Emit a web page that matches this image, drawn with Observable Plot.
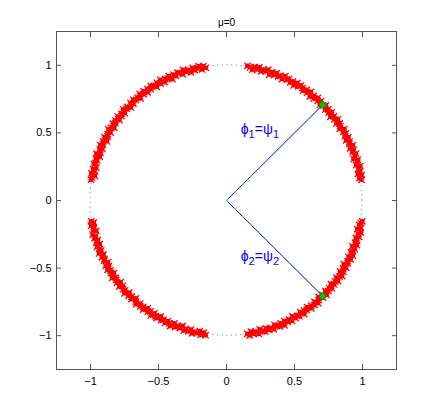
<!DOCTYPE html>
<html><head><meta charset="utf-8">
<script src="https://cdn.jsdelivr.net/npm/d3@7"></script>
<script src="https://cdn.jsdelivr.net/npm/@observablehq/plot@0.6"></script>
<style>body{margin:0;background:#fff} svg{display:block}</style>
</head><body><div id="chart"></div>
<script>
const title = "μ=0";
const xTicks = [-1, -0.5, 0, 0.5, 1];
const yTicks = [-1, -0.5, 0, 0.5, 1];
const unitRadius = [1];
// angles (degrees) and radii of the red "x" samples, one pair per arc
const theta1 = [8.8, 9.6, 10.7, 11.5, 12.6, 13.3, 14.5, 15.4, 16.2, 17.3,
  18.1, 19.2, 20.0, 21.1, 21.9, 23.0, 23.8, 24.9, 25.7, 26.8,
  27.6, 28.7, 29.5, 30.6, 31.4, 32.5, 33.3, 34.4, 35.2, 36.3,
  37.1, 38.2, 39.0, 40.1, 40.9, 42.0, 42.8, 43.9, 44.7, 45.8,
  46.6, 47.7, 48.5, 49.6, 50.4, 51.5, 52.3, 53.4, 54.2, 55.3,
  56.1, 57.2, 58.0, 59.1, 59.9, 61.0, 61.8, 62.9, 63.7, 64.8,
  65.6, 66.7, 67.5, 68.6, 69.4, 70.5, 71.3, 72.4, 73.2, 74.3,
  75.1, 76.2, 77.0, 78.1, 78.9, 80.0, 81.2];
const r1 = [1.004, 0.991, 1.012, 0.986, 1.007, 0.997, 1.015, 0.989, 1.002, 1.010,
  0.984, 0.999, 1.013, 0.993, 1.006, 0.988, 1.016, 0.996, 1.003, 0.985,
  1.011, 0.992, 1.008, 0.998, 1.014, 0.987, 1.001, 1.009, 0.990, 1.017,
  0.995, 1.005, 0.983, 1.012, 0.994, 1.007, 0.989, 1.015, 1.000, 0.986,
  1.010, 0.997, 1.013, 0.991, 1.004, 0.984, 1.016, 0.993, 1.008, 0.988,
  1.002, 1.011, 0.996, 1.014, 0.985, 1.006, 0.992, 1.009, 0.999, 1.017,
  0.987, 1.003, 0.994, 1.012, 0.990, 1.007, 0.983, 1.015, 0.998, 1.005,
  0.989, 1.013, 0.995, 1.010, 0.986, 1.001, 1.008];
const theta2 = [98.8, 99.7, 100.5, 101.6, 102.4, 103.5, 104.2, 105.4, 106.3, 107.1,
  108.2, 109.0, 110.1, 110.9, 112.0, 112.7, 113.9, 114.8, 115.6, 116.7,
  117.5, 118.6, 119.3, 120.5, 121.4, 122.2, 123.3, 124.1, 125.2, 126.0,
  127.1, 127.8, 129.0, 129.9, 130.7, 131.8, 132.6, 133.7, 134.4, 135.6,
  136.5, 137.3, 138.4, 139.2, 140.3, 141.1, 142.2, 142.9, 144.1, 145.0,
  145.8, 146.9, 147.7, 148.8, 149.5, 150.7, 151.6, 152.4, 153.5, 154.3,
  155.4, 156.2, 157.3, 158.0, 159.2, 160.1, 160.9, 162.0, 162.8, 163.9,
  164.6, 165.8, 166.7, 167.5, 168.6, 169.4, 170.3, 171.2];
const r2 = [0.993, 1.009, 0.986, 1.014, 1.001, 0.990, 1.011, 0.984, 1.006, 0.997,
  1.016, 0.988, 1.003, 1.012, 0.995, 1.008, 0.983, 1.013, 0.999, 1.005,
  0.987, 1.017, 0.992, 1.010, 0.985, 1.002, 1.014, 0.996, 1.007, 0.989,
  1.011, 0.994, 1.015, 0.986, 1.004, 0.998, 1.012, 0.991, 1.009, 0.984,
  1.006, 1.000, 1.016, 0.988, 1.003, 0.993, 1.013, 0.987, 1.008, 0.997,
  1.010, 0.985, 1.005, 1.015, 0.990, 1.001, 0.995, 1.012, 0.983, 1.007,
  0.999, 1.014, 0.989, 1.004, 0.992, 1.017, 0.986, 1.009, 0.996, 1.002,
  1.011, 0.988, 1.006, 0.994, 1.013, 0.985, 1.003, 1.008];
const theta3 = [188.8, 189.5, 190.6, 191.4, 192.5, 193.2, 194.4, 195.3, 196.1, 197.2,
  198.0, 199.1, 199.8, 201.0, 201.9, 202.7, 203.8, 204.6, 205.7, 206.4,
  207.6, 208.5, 209.3, 210.4, 211.2, 212.3, 213.0, 214.2, 215.1, 215.9,
  217.0, 217.8, 218.9, 219.6, 220.8, 221.7, 222.5, 223.6, 224.4, 225.5,
  226.2, 227.4, 228.3, 229.1, 230.2, 231.0, 232.1, 232.8, 234.0, 234.9,
  235.7, 236.8, 237.6, 238.7, 239.4, 240.6, 241.5, 242.3, 243.4, 244.2,
  245.3, 246.0, 247.2, 248.1, 248.9, 250.0, 250.8, 251.9, 252.6, 253.8,
  254.7, 255.5, 256.6, 257.4, 258.5, 259.2, 260.3, 261.2];
const r3 = [1.007, 0.989, 1.013, 0.995, 1.002, 0.984, 1.016, 0.998, 1.010, 0.991,
  1.005, 0.986, 1.012, 1.000, 0.993, 1.015, 0.988, 1.008, 0.996, 1.003,
  0.983, 1.011, 0.992, 1.014, 0.997, 1.006, 0.987, 1.017, 0.994, 1.001,
  1.009, 0.985, 1.013, 0.990, 1.004, 0.999, 1.016, 0.988, 1.007, 0.995,
  1.011, 0.984, 1.002, 1.014, 0.992, 1.008, 0.997, 1.012, 0.986, 1.005,
  0.993, 1.015, 0.989, 1.003, 1.010, 0.985, 1.006, 0.998, 1.013, 0.991,
  1.001, 1.017, 0.987, 1.009, 0.994, 1.004, 0.983, 1.012, 0.996, 1.007,
  0.990, 1.014, 0.999, 1.005, 0.986, 1.011, 0.992, 1.008];
const theta4 = [278.8, 279.7, 280.5, 281.6, 282.3, 283.5, 284.4, 285.2, 286.3, 287.1,
  288.2, 288.9, 290.1, 291.0, 291.8, 292.9, 293.7, 294.8, 295.5, 296.7,
  297.6, 298.4, 299.5, 300.3, 301.4, 302.1, 303.3, 304.2, 305.0, 306.1,
  306.9, 308.0, 308.7, 309.9, 310.8, 311.6, 312.7, 313.5, 314.6, 315.3,
  316.5, 317.4, 318.2, 319.3, 320.1, 321.2, 321.9, 323.1, 324.0, 324.8,
  325.9, 326.7, 327.8, 328.5, 329.7, 330.6, 331.4, 332.5, 333.3, 334.4,
  335.1, 336.3, 337.2, 338.0, 339.1, 339.9, 341.0, 341.7, 342.9, 343.8,
  344.6, 345.7, 346.5, 347.6, 348.3, 349.5, 350.4, 351.2];
const r4 = [0.998, 1.012, 0.987, 1.006, 0.993, 1.015, 0.984, 1.003, 1.010, 0.990,
  1.008, 0.996, 1.014, 0.985, 1.001, 1.011, 0.992, 1.017, 0.988, 1.005,
  0.995, 1.013, 0.983, 1.007, 0.999, 1.010, 0.989, 1.016, 0.994, 1.002,
  0.986, 1.012, 0.997, 1.008, 0.991, 1.014, 1.000, 0.984, 1.009, 0.993,
  1.015, 0.988, 1.004, 0.996, 1.011, 0.985, 1.006, 0.999, 1.013, 0.990,
  1.003, 1.017, 0.987, 1.008, 0.994, 1.010, 0.983, 1.005, 0.997, 1.012,
  0.989, 1.015, 0.992, 1.001, 1.009, 0.986, 1.014, 0.995, 1.004, 0.991,
  1.011, 0.998, 1.016, 0.985, 1.007, 0.993, 1.002, 1.010];
// direction vectors φ/ψ endpoints
const endX = [0.7071, 0.7071];
const endY = [0.7071, -0.7071];
const labelSub = ["1", "2"];
const labelX = [0.39, 0.39];
const labelY = [0.525, -0.415];

const rad = Math.PI / 180;
const toPts = (th, r) => th.map((t, i) => ({x: r[i] * Math.cos(t * rad), y: r[i] * Math.sin(t * rad)}));
const samples = [...toPts(theta1, r1), ...toPts(theta2, r2), ...toPts(theta3, r3), ...toPts(theta4, r4)];
const ends = endX.map((x, i) => ({x, y: endY[i]}));
const labelData = labelSub.map((s, i) => ({s, x: labelX[i], y: labelY[i]}));
const fmt = d => d === 0 ? "0" : (d < 0 ? "\u2212" : "") + Math.abs(d);
const blank = () => "";
const NS = "http://www.w3.org/2000/svg";

const circleMark = (index, scales) => {
  const g = document.createElementNS(NS, "g");
  for (const R of unitRadius) {
    const e = document.createElementNS(NS, "ellipse");
    e.setAttribute("cx", scales.x(0));
    e.setAttribute("cy", scales.y(0));
    e.setAttribute("rx", scales.x(R) - scales.x(0));
    e.setAttribute("ry", scales.y(0) - scales.y(R));
    e.setAttribute("fill", "none");
    e.setAttribute("stroke", "#7070ff");
    e.setAttribute("stroke-width", "1");
    e.setAttribute("stroke-dasharray", "1.2,3.5");
    g.appendChild(e);
  }
  return g;
};

const labelMark = (index, scales) => {
  const g = document.createElementNS(NS, "g");
  for (const d of labelData) {
    const t = document.createElementNS(NS, "text");
    t.setAttribute("x", scales.x(d.x));
    t.setAttribute("y", scales.y(d.y) + 5);
    t.setAttribute("text-anchor", "end");
    t.setAttribute("fill", "#0000ff");
    t.setAttribute("font-size", "14");
    const parts = [["ϕ", 0], [d.s, 4], ["=", -4], ["ψ", 0], [d.s, 4]];
    for (const [txt, dy] of parts) {
      const sp = document.createElementNS(NS, "tspan");
      sp.textContent = txt;
      if (dy) sp.setAttribute("dy", dy);
      if (dy > 0) sp.setAttribute("font-size", "11");
      t.appendChild(sp);
    }
    g.appendChild(t);
  }
  return g;
};

const chart = Plot.plot({
  width: 436, height: 415,
  marginLeft: 56, marginRight: 40, marginTop: 31, marginBottom: 46,
  style: {fontFamily: "'Liberation Sans', Arial, sans-serif", fontSize: "11px", background: "#fff", color: "#000"},
  x: {domain: [-1.25, 1.25], label: null},
  y: {domain: [-1.25, 1.25], label: null},
  marks: [
    circleMark,
    Plot.dot(samples, {x: "x", y: "y", r: 2.4, fill: "#ff0000"}),
    Plot.dot(samples, {x: "x", y: "y", symbol: "times", r: 3, stroke: "#ff0000", strokeWidth: 1.3}),
    Plot.link(ends, {x1: 0, y1: 0, x2: "x", y2: "y", stroke: "#0000ff", strokeWidth: 1}),
    Plot.link(ends, {x1: 0, y1: 0, x2: "x", y2: "y", stroke: "#00cc00", strokeWidth: 1, strokeDasharray: "3,8"}),
    Plot.dot(ends, {x: "x", y: "y", r: 3, fill: "#00cc00", stroke: "#009900", strokeWidth: 1}),
    labelMark,
    Plot.frame({stroke: "#555"}),
    Plot.axisX(xTicks, {anchor: "bottom", tickSize: 5, dy: -5, tickFormat: blank, stroke: "#555", label: null}),
    Plot.axisX(xTicks, {anchor: "top", tickSize: 5, dy: 5, tickFormat: blank, stroke: "#555", label: null}),
    Plot.axisY(yTicks, {anchor: "left", tickSize: 5, dx: 5, tickFormat: blank, stroke: "#555", label: null}),
    Plot.axisY(yTicks, {anchor: "right", tickSize: 5, dx: -5, tickFormat: blank, stroke: "#555", label: null}),
    Plot.axisX(xTicks, {anchor: "bottom", tickSize: 0, tickPadding: 8, tickFormat: fmt, fill: "#000", label: null}),
    Plot.axisY(yTicks, {anchor: "left", tickSize: 0, tickPadding: 5, tickFormat: fmt, fill: "#000", label: null}),
    Plot.text([title], {frameAnchor: "top", dy: -13, fontSize: 10, fill: "#000"})
  ]
});
document.getElementById("chart").appendChild(chart);
</script>
</body></html>
